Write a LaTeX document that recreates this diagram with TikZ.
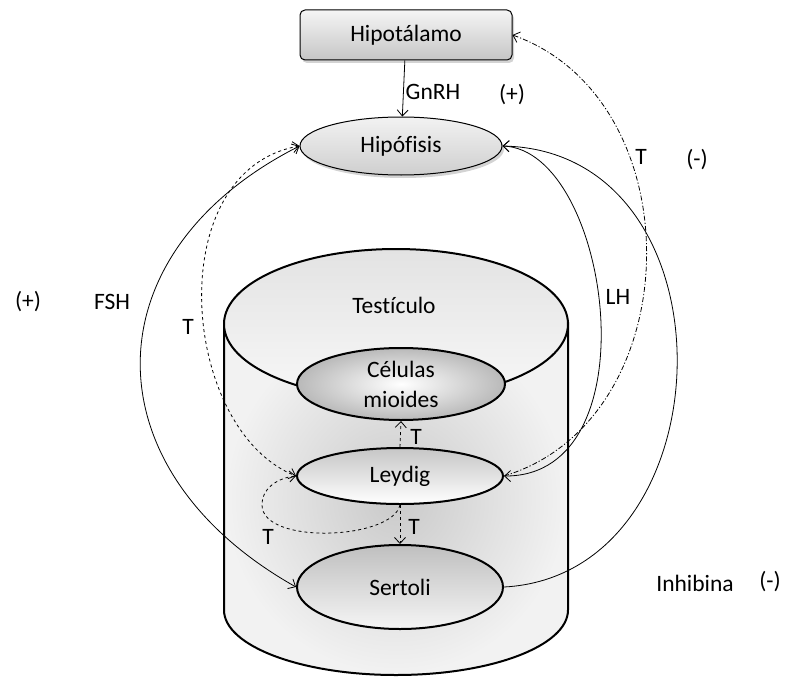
\documentclass[tikz,border=0pt]{standalone}
\usepackage{fontspec}
\setmainfont{Carlito}[Ligatures=NoCommon]
\usetikzlibrary{shapes.geometric,arrows.meta,shadows}
\begin{document}
\begin{tikzpicture}[x=1pt,y=-1pt,
  font=\fontsize{23.5}{30}\selectfont,
  tip/.style={-{Straight Barb[length=6pt,width=11pt]}},
  bitip/.style={{Straight Barb[length=6pt,width=11pt]}-{Straight Barb[length=6pt,width=11pt]}},
  thin1/.style={line width=0.8pt},
  cell/.style={ellipse, draw, line width=2pt, inner sep=0pt},
  dashdot/.style={dash pattern=on 5pt off 2pt on 1.2pt off 2pt},
  lbl/.style={inner sep=0pt, anchor=center}]
\useasboundingbox (0,0) rectangle (789,677);
% cylinder body
\path[draw, line width=2pt, inner color=gray!42, outer color=gray!10]
  (224,323) -- (224,610) arc[start angle=180, end angle=0, x radius=172, y radius=65] -- (568,323) -- cycle;
\node[ellipse, draw, line width=2pt, minimum width=344pt, minimum height=150pt, inner sep=0pt,
  top color=gray!22, bottom color=gray!6] (top) at (396,324) {};
\node[lbl] (testiculo) at (394,305) {Testículo};
% top boxes
\node[draw, rounded corners=5pt, line width=1pt, minimum width=212pt, minimum height=50pt,
  top color=gray!8, bottom color=gray!45, drop shadow={opacity=0.35, shadow xshift=2pt, shadow yshift=-3pt}] (hipot) at (406,35) {Hipotálamo};
\node[ellipse, draw, line width=1pt, minimum width=202pt, minimum height=58pt, inner sep=0pt,
  top color=gray!10, bottom color=gray!38, drop shadow={opacity=0.35, shadow xshift=2pt, shadow yshift=-3pt}] (hipof) at (401,146) {Hipófisis};
% inner cells
\node[cell, minimum width=208pt, minimum height=72pt, inner color=white, outer color=gray!55, align=center] (celulas) at (401,384) {Células\\mioides};
\node[cell, minimum width=206pt, minimum height=56pt, top color=gray!45, bottom color=white] (leydig) at (400,476) {Leydig};
\node[cell, minimum width=206pt, minimum height=84pt, top color=gray!50, bottom color=gray!8] (sertoli) at (400,587) {Sertoli};
% connectors
\draw[thin1, tip] (hipot) -- (hipof);
\draw[thin1, bitip] (hipof.west) .. controls (88,253) and (88,470) .. (sertoli.west);
\draw[thin1, dashed, bitip] (hipof.west) .. controls (160,170) and (180,430) .. (leydig.west);
\draw[thin1, dashed, tip] (leydig.north) -- (celulas.south);
\draw[thin1, dashed, tip] (leydig.south) -- (sertoli.north);
\coordinate (loopl) at (262,505);
\draw[thin1, dashed, tip] (leydig.south) .. controls (392,540) and (262,545) .. (loopl) .. controls (262,485) and (283,477) .. (leydig.west);
\draw[thin1, bitip] (hipof.east) .. controls (610,150) and (655,477) .. (leydig.east);
\draw[thin1, tip] (sertoli.east) .. controls (730,575) and (740,151) .. (hipof.east);
\draw[thin1, dashdot, tip] (leydig.east) .. controls (690,420) and (695,100) .. (hipot.east);
% labels
\node[lbl] (gnrh) at (433,92) {GnRH};
\node[lbl] (p1) at (512,95) {(+)};
\node[lbl] (t1) at (641,157) {T};
\node[lbl] (m1) at (697,160) {(-)};
\node[lbl] (p2) at (28,302) {(+)};
\node[lbl] (fsh) at (112,302) {FSH};
\node[lbl] (t2) at (188,327) {T};
\node[lbl] (lh) at (618,297) {LH};
\node[lbl] (t3) at (416,437) {T};
\node[lbl] (t4) at (414,527) {T};
\node[lbl] (t5) at (268,537) {T};
\node[lbl] (inh) at (695,583) {Inhibina};
\node[lbl] (m2) at (770,582) {(-)};
\end{tikzpicture}
\end{document}
